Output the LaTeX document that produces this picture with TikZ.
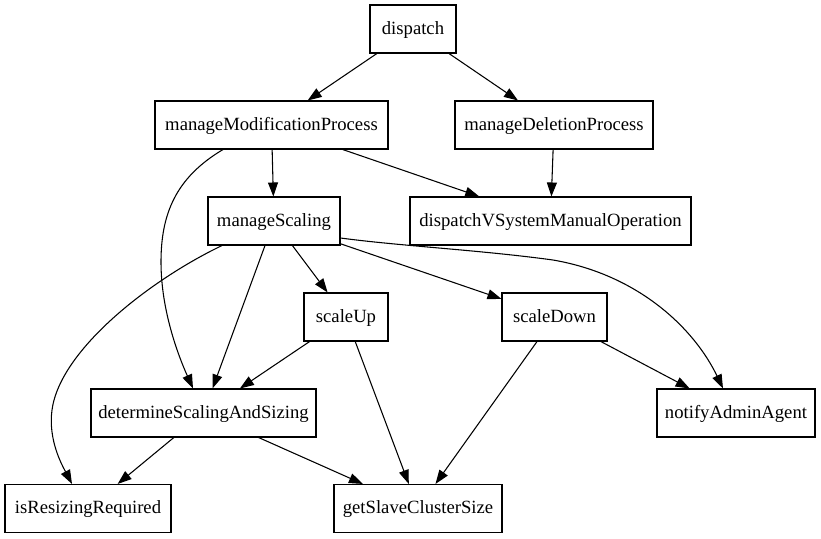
\documentclass[tikz,border=0pt]{standalone}
\usepackage{fontspec}
\setmainfont{Liberation Serif}
\usetikzlibrary{arrows.meta,calc}

\begin{document}
\begin{tikzpicture}[
  x=0.75pt, y=-0.75pt,
  box/.style={draw, rectangle, line width=0.8pt, inner sep=0pt,
    minimum height=36pt, text height=10pt, text depth=2.5pt,
    font=\fontsize{14pt}{16pt}\selectfont},
  edge/.style={line width=0.8pt, -{Triangle[length=10.5pt, width=7.5pt]}}
]
\useasboundingbox (0,0) rectangle (821,539);

% nodes, one row per rank
\node[box, minimum width=64.5pt]  (d)    at (413,29)    {dispatch};
\node[box, minimum width=174.75pt](mmp)  at (271.5,125) {manageModificationProcess};
\node[box, minimum width=148.5pt] (mdp)  at (554,125)   {manageDeletionProcess};
\node[box, minimum width=99pt]    (ms)   at (274,221)   {manageScaling};
\node[box, minimum width=210.75pt](dvs)  at (550.5,221) {dispatchVSystemManualOperation};
\node[box, minimum width=63pt]    (su)   at (346,317)   {scaleUp};
\node[box, minimum width=78.75pt] (sd)   at (554.5,317) {scaleDown};
\node[box, minimum width=168.75pt](dsas) at (203.5,413) {determineScalingAndSizing};
\node[box, minimum width=118.5pt] (naa)  at (736,413)   {notifyAdminAgent};
\node[box, minimum width=124.5pt] (irr)  at (88,508.5)  {isResizingRequired};
\node[box, minimum width=126pt]   (gscs) at (418,508.5) {getSlaveClusterSize};

% straight connectors
\draw[edge] (d) -- (mmp);
\draw[edge] (d) -- (mdp);
\draw[edge] (mmp) -- (ms);
\draw[edge] (mmp) -- (dvs);
\draw[edge] (mdp) -- (dvs);
\draw[edge] (ms) -- (dsas);
\draw[edge] (ms) -- (su);
\draw[edge] (ms) -- (sd);
\draw[edge] (su) -- (dsas);
\draw[edge] (su) -- (gscs);
\draw[edge] (sd) -- (gscs);
\draw[edge] (sd) -- (naa);
\draw[edge] (dsas) -- (irr);
\draw[edge] (dsas) -- (gscs);

% curved connectors
\draw[edge] ($(mmp.south)+(-48.5,0)$)
  .. controls (175,178) and (161,215) .. (161,262)
  .. controls (161,310) and (178,355) .. ($(dsas.north)+(-10.5,0)$);
\draw[edge] ($(ms.south)+(-52,0)$)
  .. controls (150,280) and (60,350) .. (52,410)
  .. controls (48,440) and (62,465) .. ($(irr.north)+(-16,0)$);
\draw[edge] ($(ms.east)+(0,17)$)
  .. controls (400,246) and (480,250) .. (553,260)
  .. controls (640,275) and (695,330) .. ($(naa.north)+(-13,0)$);
\end{tikzpicture}
\end{document}
